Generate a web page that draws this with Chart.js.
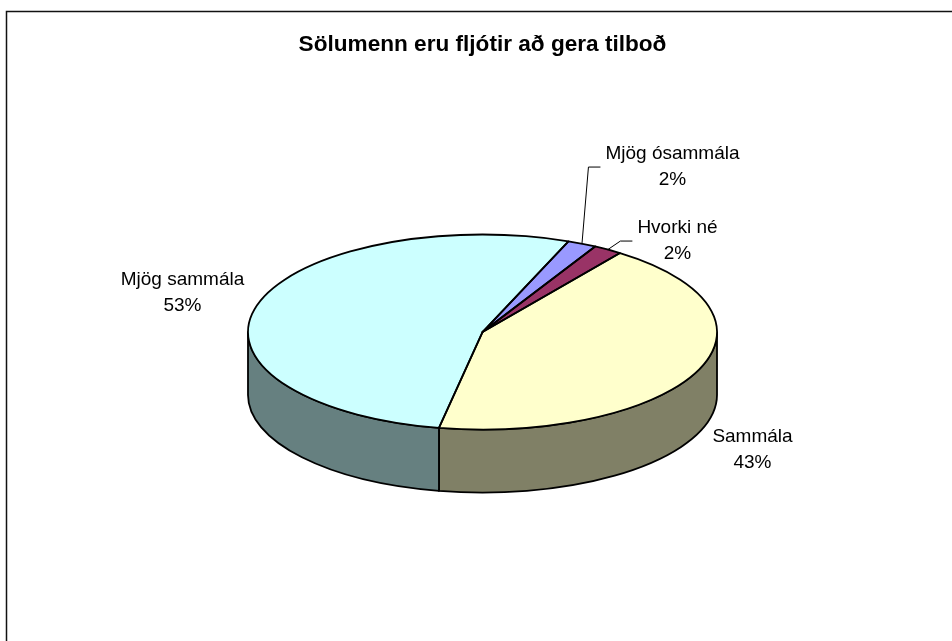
<!DOCTYPE html>
<html>
<head>
<meta charset="utf-8">
<script src="https://cdn.jsdelivr.net/npm/chart.js@4.4.0/dist/chart.umd.min.js"></script>
<style>
  html, body { margin: 0; padding: 0; background: #fff; }
  #wrap { width: 952px; height: 641px; }
</style>
</head>
<body>
<div id="wrap"><canvas id="chart" width="952" height="641"></canvas></div>
<script>
const chartTitle = 'Sölumenn eru fljótir að gera tilboð';
const categories = ['Mjög ósammála', 'Hvorki né', 'Sammála', 'Mjög sammála'];
const values = [2, 2, 43, 53];
const topColors = ['#9999FF', '#993366', '#FFFFCC', '#CCFFFF'];
const sideColors = ['#4D4D80', '#4D1A33', '#808066', '#668080'];
// where each label block sits, measured from the pie centre
const labelOffsets = [[190, -165], [195, -91], [270, 118], [-300, -39]];

const FONT = '"Liberation Sans", Arial, sans-serif';
const total = values.reduce((a, b) => a + b, 0);

const pie3d = {
    id: 'pie3d',
    beforeDraw(chart) {
        // outer frame of the chart object
        const ctx = chart.ctx;
        ctx.save();
        ctx.strokeStyle = '#111';
        ctx.lineWidth = 1.5;
        ctx.strokeRect(6.5, 11.5, chart.width + 20, chart.height + 20);
        ctx.restore();
    },
    beforeDatasetsDraw(chart, args, opts) {
        const ctx = chart.ctx;
        const arcs = chart.getDatasetMeta(0).data;
        const cx = arcs[0].x, cy = arcs[0].y, rx = arcs[0].outerRadius;
        const ry = rx * opts.tilt;

        // side walls, only the front half is visible
        ctx.save();
        ctx.lineWidth = opts.lineWidth;
        ctx.strokeStyle = '#000';
        ctx.lineJoin = 'round';
        arcs.forEach((arc, i) => {
            for (let k = -1; k <= 2; k++) {
                const lo = Math.max(arc.startAngle, k * 2 * Math.PI);
                const hi = Math.min(arc.endAngle, k * 2 * Math.PI + Math.PI);
                if (hi <= lo) continue;
                ctx.beginPath();
                ctx.ellipse(cx, cy, rx, ry, 0, lo, hi, false);
                ctx.ellipse(cx, cy + opts.depth, rx, ry, 0, hi, lo, true);
                ctx.closePath();
                ctx.fillStyle = sideColors[i];
                ctx.fill();
                ctx.stroke();
            }
        });
        ctx.restore();

        // squash the round pie into the top face
        ctx.save();
        ctx.translate(cx, cy);
        ctx.scale(1, ry / rx);
        ctx.translate(-cx, -cy);
    },
    afterDatasetsDraw(chart, args, opts) {
        const ctx = chart.ctx;
        ctx.restore();

        const arcs = chart.getDatasetMeta(0).data;
        const cx = arcs[0].x, cy = arcs[0].y, rx = arcs[0].outerRadius;
        const ry = rx * opts.tilt;

        ctx.save();
        ctx.lineWidth = opts.lineWidth;
        ctx.strokeStyle = '#000';
        ctx.lineJoin = 'round';
        arcs.forEach(arc => {
            ctx.beginPath();
            ctx.moveTo(cx, cy);
            ctx.ellipse(cx, cy, rx, ry, 0, arc.startAngle, arc.endAngle, false);
            ctx.closePath();
            ctx.stroke();
        });

        ctx.font = '19px ' + FONT;
        ctx.textAlign = 'center';
        ctx.textBaseline = 'middle';
        ctx.fillStyle = '#000';
        ctx.lineWidth = 1;
        arcs.forEach((arc, i) => {
            const lx = cx + labelOffsets[i][0];
            const ly = cy + labelOffsets[i][1];
            ctx.fillText(categories[i], lx, ly - 13);
            ctx.fillText(Math.round(values[i] / total * 100) + '%', lx, ly + 13);

            if (values[i] / total < 0.05) {
                const mid = (arc.startAngle + arc.endAngle) / 2;
                const sx = cx + rx * Math.cos(mid);
                const sy = cy + ry * Math.sin(mid);
                const ex = lx - ctx.measureText(categories[i]).width / 2 - 5;
                ctx.beginPath();
                ctx.moveTo(sx, sy);
                ctx.lineTo(ex - 12, ly);
                ctx.lineTo(ex, ly);
                ctx.stroke();
            }
        });
        ctx.restore();
    }
};

new Chart(document.getElementById('chart'), {
    type: 'pie',
    data: {
        labels: categories,
        datasets: [{
            data: values,
            backgroundColor: topColors,
            borderWidth: 0
        }]
    },
    options: {
        responsive: false,
        animation: false,
        events: [],
        rotation: 21.5,
        radius: 234.5,
        layout: { padding: { left: 20, right: 7, top: 21, bottom: 45 } },
        plugins: {
            legend: { display: false },
            tooltip: { enabled: false },
            title: {
                display: true,
                text: chartTitle,
                color: '#000',
                font: { family: FONT, size: 22.6, weight: 'bold' },
                padding: { top: 10, bottom: 10 }
            },
            pie3d: { tilt: 0.416, depth: 63, lineWidth: 1.8 }
        }
    },
    plugins: [pie3d]
});
</script>
</body>
</html>
